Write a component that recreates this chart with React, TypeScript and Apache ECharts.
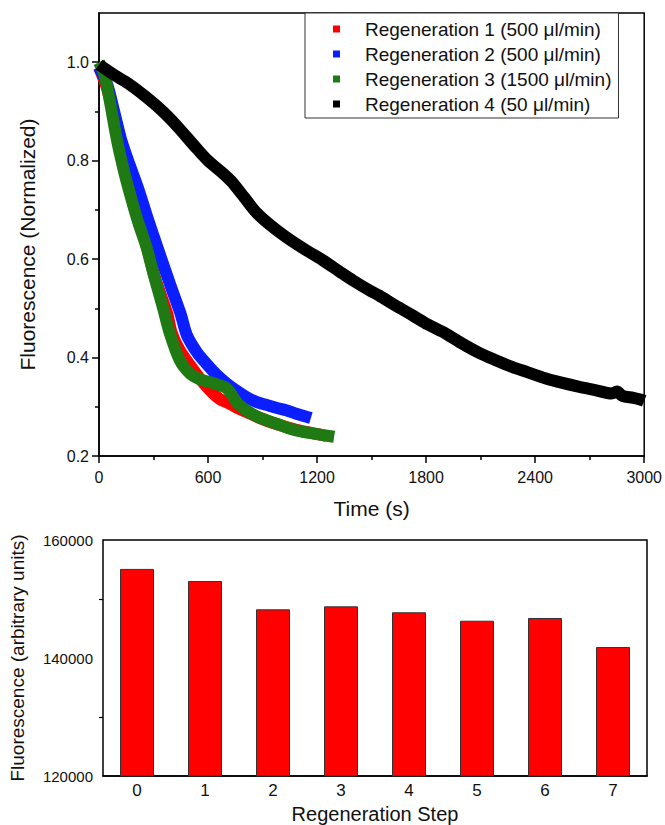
import React, { useEffect, useRef } from "react";
import * as echarts from "echarts";

// ---- Top chart: normalized fluorescence vs time ----
const reg1Data: [number, number][] = [
  [0, 0.99], [50, 0.94], [100, 0.855], [150, 0.775], [200, 0.705], [260, 0.63],
  [310, 0.56], [375, 0.49], [400, 0.45], [444, 0.415], [500, 0.385], [560, 0.355],
  [620, 0.33], [664, 0.316], [710, 0.308], [760, 0.298], [810, 0.29], [880, 0.278],
  [950, 0.268], [1020, 0.26], [1100, 0.252], [1180, 0.246], [1250, 0.241],
];
const reg2Data: [number, number][] = [
  [0, 0.99], [45, 0.955], [80, 0.905], [124, 0.84], [170, 0.79], [214, 0.745],
  [270, 0.68], [325, 0.62], [390, 0.55], [448, 0.49], [484, 0.445], [540, 0.41],
  [590, 0.388], [645, 0.366], [700, 0.348], [755, 0.333], [810, 0.32], [865, 0.31],
  [920, 0.304], [975, 0.298], [1029, 0.293], [1085, 0.286], [1139, 0.28], [1166, 0.277],
];
const reg3Data: [number, number][] = [
  [0, 1.0], [30, 0.975], [60, 0.92], [100, 0.84], [140, 0.775], [180, 0.72],
  [220, 0.67], [261, 0.625], [300, 0.57], [353, 0.5], [389, 0.45], [444, 0.395],
  [500, 0.368], [554, 0.356], [610, 0.35], [664, 0.344], [700, 0.338], [730, 0.325],
  [760, 0.308], [810, 0.293], [870, 0.28], [920, 0.273], [980, 0.265], [1048, 0.256],
  [1110, 0.25], [1175, 0.246], [1240, 0.242], [1294, 0.239],
];
const reg4Data: [number, number][] = [
  [0, 0.995], [80, 0.975], [160, 0.957], [250, 0.932], [342, 0.903],
  [430, 0.87], [530, 0.828], [600, 0.8], [680, 0.775], [728, 0.758], [800, 0.725],
  [865, 0.695], [950, 0.667], [1048, 0.64], [1140, 0.618], [1230, 0.598], [1330, 0.573],
  [1400, 0.556], [1486, 0.537], [1541, 0.526], [1630, 0.506], [1724, 0.486], [1810, 0.467],
  [1907, 0.449], [2000, 0.428], [2089, 0.41], [2180, 0.395], [2272, 0.381], [2360, 0.37],
  [2455, 0.358], [2545, 0.349], [2638, 0.341], [2730, 0.334], [2821, 0.327], [2850, 0.331],
  [2880, 0.322], [2940, 0.318], [2985, 0.314], [3000, 0.312],
];
const seriesNames = [
  "Regeneration 1 (500 μl/min)",
  "Regeneration 2 (500 μl/min)",
  "Regeneration 3 (1500 μl/min)",
  "Regeneration 4 (50 μl/min)",
];
const seriesColors = ["#ff0000", "#0a1eff", "#1f7a14", "#000000"];
const yMajorTicks = [0.2, 0.4, 0.6, 0.8, 1.0];
const yMinorTicks = [0.3, 0.5, 0.7, 0.9];

// ---- Bottom chart: fluorescence per regeneration step ----
const stepCategories = ["0", "1", "2", "3", "4", "5", "6", "7"];
const stepValues = [155100, 153050, 148250, 148760, 147750, 146320, 146780, 141860];

const FONT = "'Liberation Sans', Arial, sans-serif";
const TXT = "#111";

export default function App() {
  const ref = useRef<HTMLDivElement>(null);
  useEffect(() => {
    if (!ref.current) return;
    const chart = echarts.init(ref.current, undefined, { renderer: "svg" });
    const lineSeries = [reg1Data, reg2Data, reg3Data, reg4Data].map((d, i) => ({
      name: seriesNames[i],
      type: "line",
      xAxisIndex: 0,
      yAxisIndex: 0,
      data: d,
      showSymbol: false,
      symbol: "rect",
      smooth: 0.3,
      color: seriesColors[i],
      lineStyle: { width: 12, color: seriesColors[i], cap: "butt", join: "round" },
      z: 2 + i,
    }));
    chart.setOption({
      animation: false,
      backgroundColor: "#fff",
      textStyle: { fontFamily: FONT },
      legend: {
        show: true,
        orient: "vertical",
        left: 305,
        top: 13,
        padding: [6, 7, 4, 28],
        itemGap: 5,
        itemWidth: 7,
        itemHeight: 7,
        icon: "rect",
        selectedMode: false,
        borderColor: "#333",
        borderWidth: 1,
        backgroundColor: "#fff",
        data: seriesNames,
        textStyle: { fontSize: 19, color: TXT, fontFamily: FONT, padding: [0, 0, 0, 20], lineHeight: 20 },
        z: 20,
      },
      grid: [
        { left: 99, right: 19, top: 13, height: 443, show: true, borderColor: "#000", borderWidth: 1.5, backgroundColor: "transparent" },
        { left: 100, right: 18, top: 540, height: 237, show: true, borderColor: "#000", borderWidth: 1.5, backgroundColor: "transparent" },
      ],
      xAxis: [
        {
          type: "value", gridIndex: 0, min: 0, max: 3000, interval: 600,
          name: "Time (s)", nameLocation: "middle", nameGap: 42,
          nameTextStyle: { fontSize: 21, color: TXT, fontFamily: FONT },
          axisLine: { lineStyle: { color: "#000", width: 1.5 } },
          axisTick: { inside: false, length: 7, lineStyle: { color: "#000", width: 1.5 } },
          minorTick: { show: true, splitNumber: 2, length: 4, lineStyle: { color: "#000", width: 1.5 } },
          axisLabel: { fontSize: 16, color: TXT, margin: 13, fontFamily: FONT, formatter: (v: number) => String(v) },
          splitLine: { show: false },
          minorSplitLine: { show: false },
        },
        {
          type: "category", gridIndex: 1, data: stepCategories,
          name: "Regeneration Step", nameLocation: "middle", nameGap: 28,
          nameTextStyle: { fontSize: 20, color: TXT, fontFamily: FONT },
          axisLine: { lineStyle: { color: "#000", width: 1.5 } },
          axisTick: { alignWithLabel: false, length: 4, lineStyle: { color: "#000", width: 1.2 } },
          axisLabel: { fontSize: 17, color: TXT, margin: 6, fontFamily: FONT },
          splitLine: { show: false },
        },
        {
          type: "category", gridIndex: 1, data: stepCategories, position: "bottom",
          axisLine: { show: false },
          axisTick: { alignWithLabel: true, length: 5, lineStyle: { color: "#000", width: 1.2 } },
          axisLabel: { show: false },
          splitLine: { show: false },
        },
      ],
      yAxis: [
        {
          type: "value", gridIndex: 0, min: 0.2, max: 1.1, position: "left",
          name: "Fluorescence (Normalized)", nameLocation: "middle", nameGap: 61,
          nameTextStyle: { fontSize: 21, color: TXT, fontFamily: FONT, padding: [0, 20, 0, 0] },
          axisLine: { lineStyle: { color: "#000", width: 1.5 } },
          axisTick: { inside: false, length: 7, customValues: yMajorTicks, lineStyle: { color: "#000", width: 1.5 } },
          axisLabel: { fontSize: 16, color: TXT, margin: 10, customValues: yMajorTicks, fontFamily: FONT, formatter: (v: number) => v.toFixed(1) },
          splitLine: { show: false },
        },
        {
          type: "value", gridIndex: 0, min: 0.2, max: 1.1, position: "left",
          axisLine: { show: false },
          axisTick: { inside: false, length: 4, customValues: yMinorTicks, lineStyle: { color: "#000", width: 1.5 } },
          axisLabel: { show: false },
          splitLine: { show: false },
        },
        {
          type: "value", gridIndex: 1, min: 120000, max: 160000, interval: 20000,
          name: "Fluorescence (arbitrary units)", nameLocation: "middle", nameGap: 76,
          nameTextStyle: { fontSize: 19, color: TXT, fontFamily: FONT },
          axisLine: { lineStyle: { color: "#000", width: 1.5 } },
          axisTick: { inside: false, length: 5, lineStyle: { color: "#000", width: 1.2 } },
          minorTick: { show: true, splitNumber: 2, length: 4, lineStyle: { color: "#000", width: 1.2 } },
          axisLabel: { fontSize: 15, color: TXT, margin: 10, fontFamily: FONT, formatter: (v: number) => String(v) },
          splitLine: { show: false },
          minorSplitLine: { show: false },
        },
      ],
      series: [
        ...lineSeries,
        {
          name: "Fluorescence",
          type: "bar",
          xAxisIndex: 1,
          yAxisIndex: 2,
          data: stepValues,
          barWidth: "50%",
          itemStyle: { color: "#ff0000", borderColor: "#333", borderWidth: 1 },
        },
      ],
    });
    return () => chart.dispose();
  }, []);
  return (
    <div
      ref={ref}
      style={{ position: "fixed", left: 0, top: 0, width: 665, height: 825, background: "#fff" }}
    />
  );
}
